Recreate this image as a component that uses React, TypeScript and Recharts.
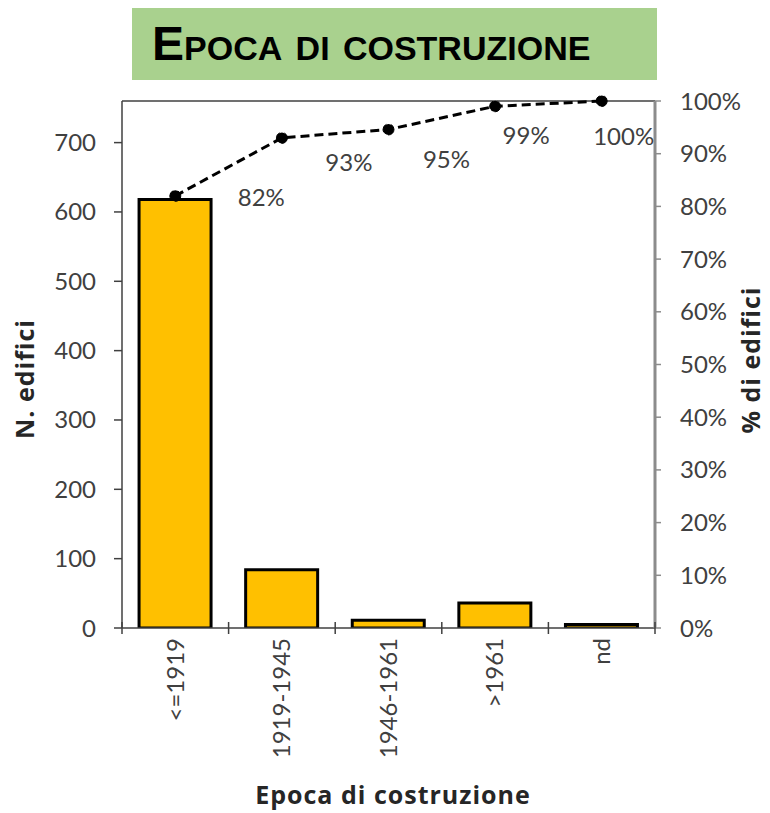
import React from "react";
import { ComposedChart, Bar, Line, XAxis, YAxis, LabelList, ReferenceLine } from "recharts";

const categories = ["<=1919", "1919-1945", "1946-1961", ">1961", "nd"];
const buildings = [618, 84, 11, 36, 5];
const cumulativeShare = [0.82, 0.93, 0.946, 0.99, 1];
const countTicks = [0, 100, 200, 300, 400, 500, 600, 700];
const shareTicks = [0, 0.1, 0.2, 0.3, 0.4, 0.5, 0.6, 0.7, 0.8, 0.9, 1];

const data = categories.map((cat, i) => ({
  cat,
  n: buildings[i],
  cum: cumulativeShare[i],
}));

const W = 770;
const H = 813;
const LEFT_W = 122;
const RIGHT_W = 115;
const X_H = 185;
const TOP = 101;
const BAND = (W - LEFT_W - RIGHT_W) / categories.length;

// hand-placed label offsets, like the manually moved Excel labels
const labelShift = [
  [86, 1],
  [67, 24],
  [58, 29],
  [31, 28],
  [22, 34],
];

const FONT = "Lato, 'Open Sans', sans-serif";
const TITLE_FONT = "'Open Sans', Lato, sans-serif";
const GREY = "#404040";

function CatTick(props: any) {
  const { x, y, payload, index } = props;
  const last = index === categories.length - 1;
  return (
    <g>
      <line x1={x - BAND / 2} x2={x - BAND / 2} y1={y - 6} y2={y + 6} stroke={GREY} strokeWidth={1.5} />
      {last && (
        <line x1={x + BAND / 2} x2={x + BAND / 2} y1={y - 6} y2={y + 6} stroke={GREY} strokeWidth={1.5} />
      )}
      <text
        x={x}
        y={y + 10}
        transform={`rotate(-90, ${x}, ${y + 10})`}
        textAnchor="end"
        dy="0.35em"
        fill={GREY}
        fontSize={24}
        fontFamily={FONT}
      >
        {payload.value}
      </text>
    </g>
  );
}

function ShareLabel(props: any) {
  const { x, y, value, index } = props;
  const [dx, dy] = labelShift[index];
  return (
    <text
      x={x + dx}
      y={y + dy}
      textAnchor="middle"
      dominantBaseline="central"
      fill={GREY}
      fontSize={24}
      fontFamily={FONT}
    >
      {Math.round(value * 100) + "%"}
    </text>
  );
}

const axisTitle: React.CSSProperties = {
  position: "absolute",
  whiteSpace: "nowrap",
  fontFamily: TITLE_FONT,
  fontWeight: "bold",
  fontSize: 25,
  letterSpacing: 1,
  lineHeight: "24px",
  color: "#262626",
};

export default function App() {
  return (
    <div style={{ position: "absolute", left: 0, top: 0, width: W, height: H, background: "#fff", overflow: "hidden" }}>
      <div
        style={{
          position: "absolute",
          left: 132,
          top: 8,
          width: 525,
          height: 72,
          background: "#A9D18E",
        }}
      >
        <div
          style={{
            position: "absolute",
            left: 20,
            top: 9,
            fontFamily: "'Liberation Sans', Arial, sans-serif",
            fontWeight: "bold",
            fontSize: 48,
            lineHeight: "54px",
            fontVariant: "small-caps",
            color: "#000",
          }}
        >
          Epoca di costruzione
        </div>
      </div>

      <ComposedChart
        width={W}
        height={H}
        data={data}
        margin={{ top: TOP, right: 0, bottom: 0, left: 0 }}
        barCategoryGap="16%"
      >
        <XAxis
          dataKey="cat"
          xAxisId="cat"
          height={X_H}
          axisLine={{ stroke: GREY, strokeWidth: 1.5 }}
          tickLine={false}
          tickSize={0}
          tickMargin={0}
          interval={0}
          tick={<CatTick />}
        />
        <YAxis
          yAxisId="left"
          width={LEFT_W}
          domain={[0, 760]}
          ticks={countTicks}
          allowDataOverflow
          axisLine={{ stroke: GREY, strokeWidth: 1.5 }}
          tickLine={{ stroke: GREY, strokeWidth: 1.5 }}
          tickSize={8}
          tickMargin={18}
          tick={{ fill: GREY, fontSize: 24, fontFamily: FONT }}
        />
        <YAxis
          yAxisId="right"
          orientation="right"
          width={RIGHT_W}
          domain={[0, 1]}
          ticks={shareTicks}
          tickFormatter={(v: number) => Math.round(v * 100) + "%"}
          axisLine={{ stroke: "#8c8c8c", strokeWidth: 3 }}
          tickLine={{ stroke: "#8c8c8c", strokeWidth: 1.5 }}
          tickSize={6}
          tickMargin={19}
          tick={{ fill: GREY, fontSize: 24, fontFamily: FONT }}
        />
        <ReferenceLine yAxisId="left" xAxisId="cat" y={760} stroke={GREY} strokeWidth={1.5} ifOverflow="visible" />
        <Bar
          dataKey="n"
          xAxisId="cat"
          yAxisId="left"
          fill="#FFC000"
          stroke="#000"
          strokeWidth={3}
          isAnimationActive={false}
        />
        <Line
          dataKey="cum"
          xAxisId="cat"
          yAxisId="right"
          stroke="#000"
          strokeWidth={3}
          strokeDasharray="9 5"
          dot={{ r: 5.5, fill: "#000", stroke: "#000", strokeWidth: 1 }}
          isAnimationActive={false}
        >
          <LabelList dataKey="cum" content={<ShareLabel />} />
        </Line>
      </ComposedChart>

      <div style={{ ...axisTitle, left: 24, top: 379, transform: "translate(-50%, -50%) rotate(-90deg)" }}>
        N. edifici
      </div>
      <div style={{ ...axisTitle, left: 750, top: 360, transform: "translate(-50%, -50%) rotate(-90deg)" }}>
        % di edifici
      </div>
      <div style={{ ...axisTitle, left: 393, top: 794, transform: "translate(-50%, -50%)" }}>
        Epoca di costruzione
      </div>
    </div>
  );
}
